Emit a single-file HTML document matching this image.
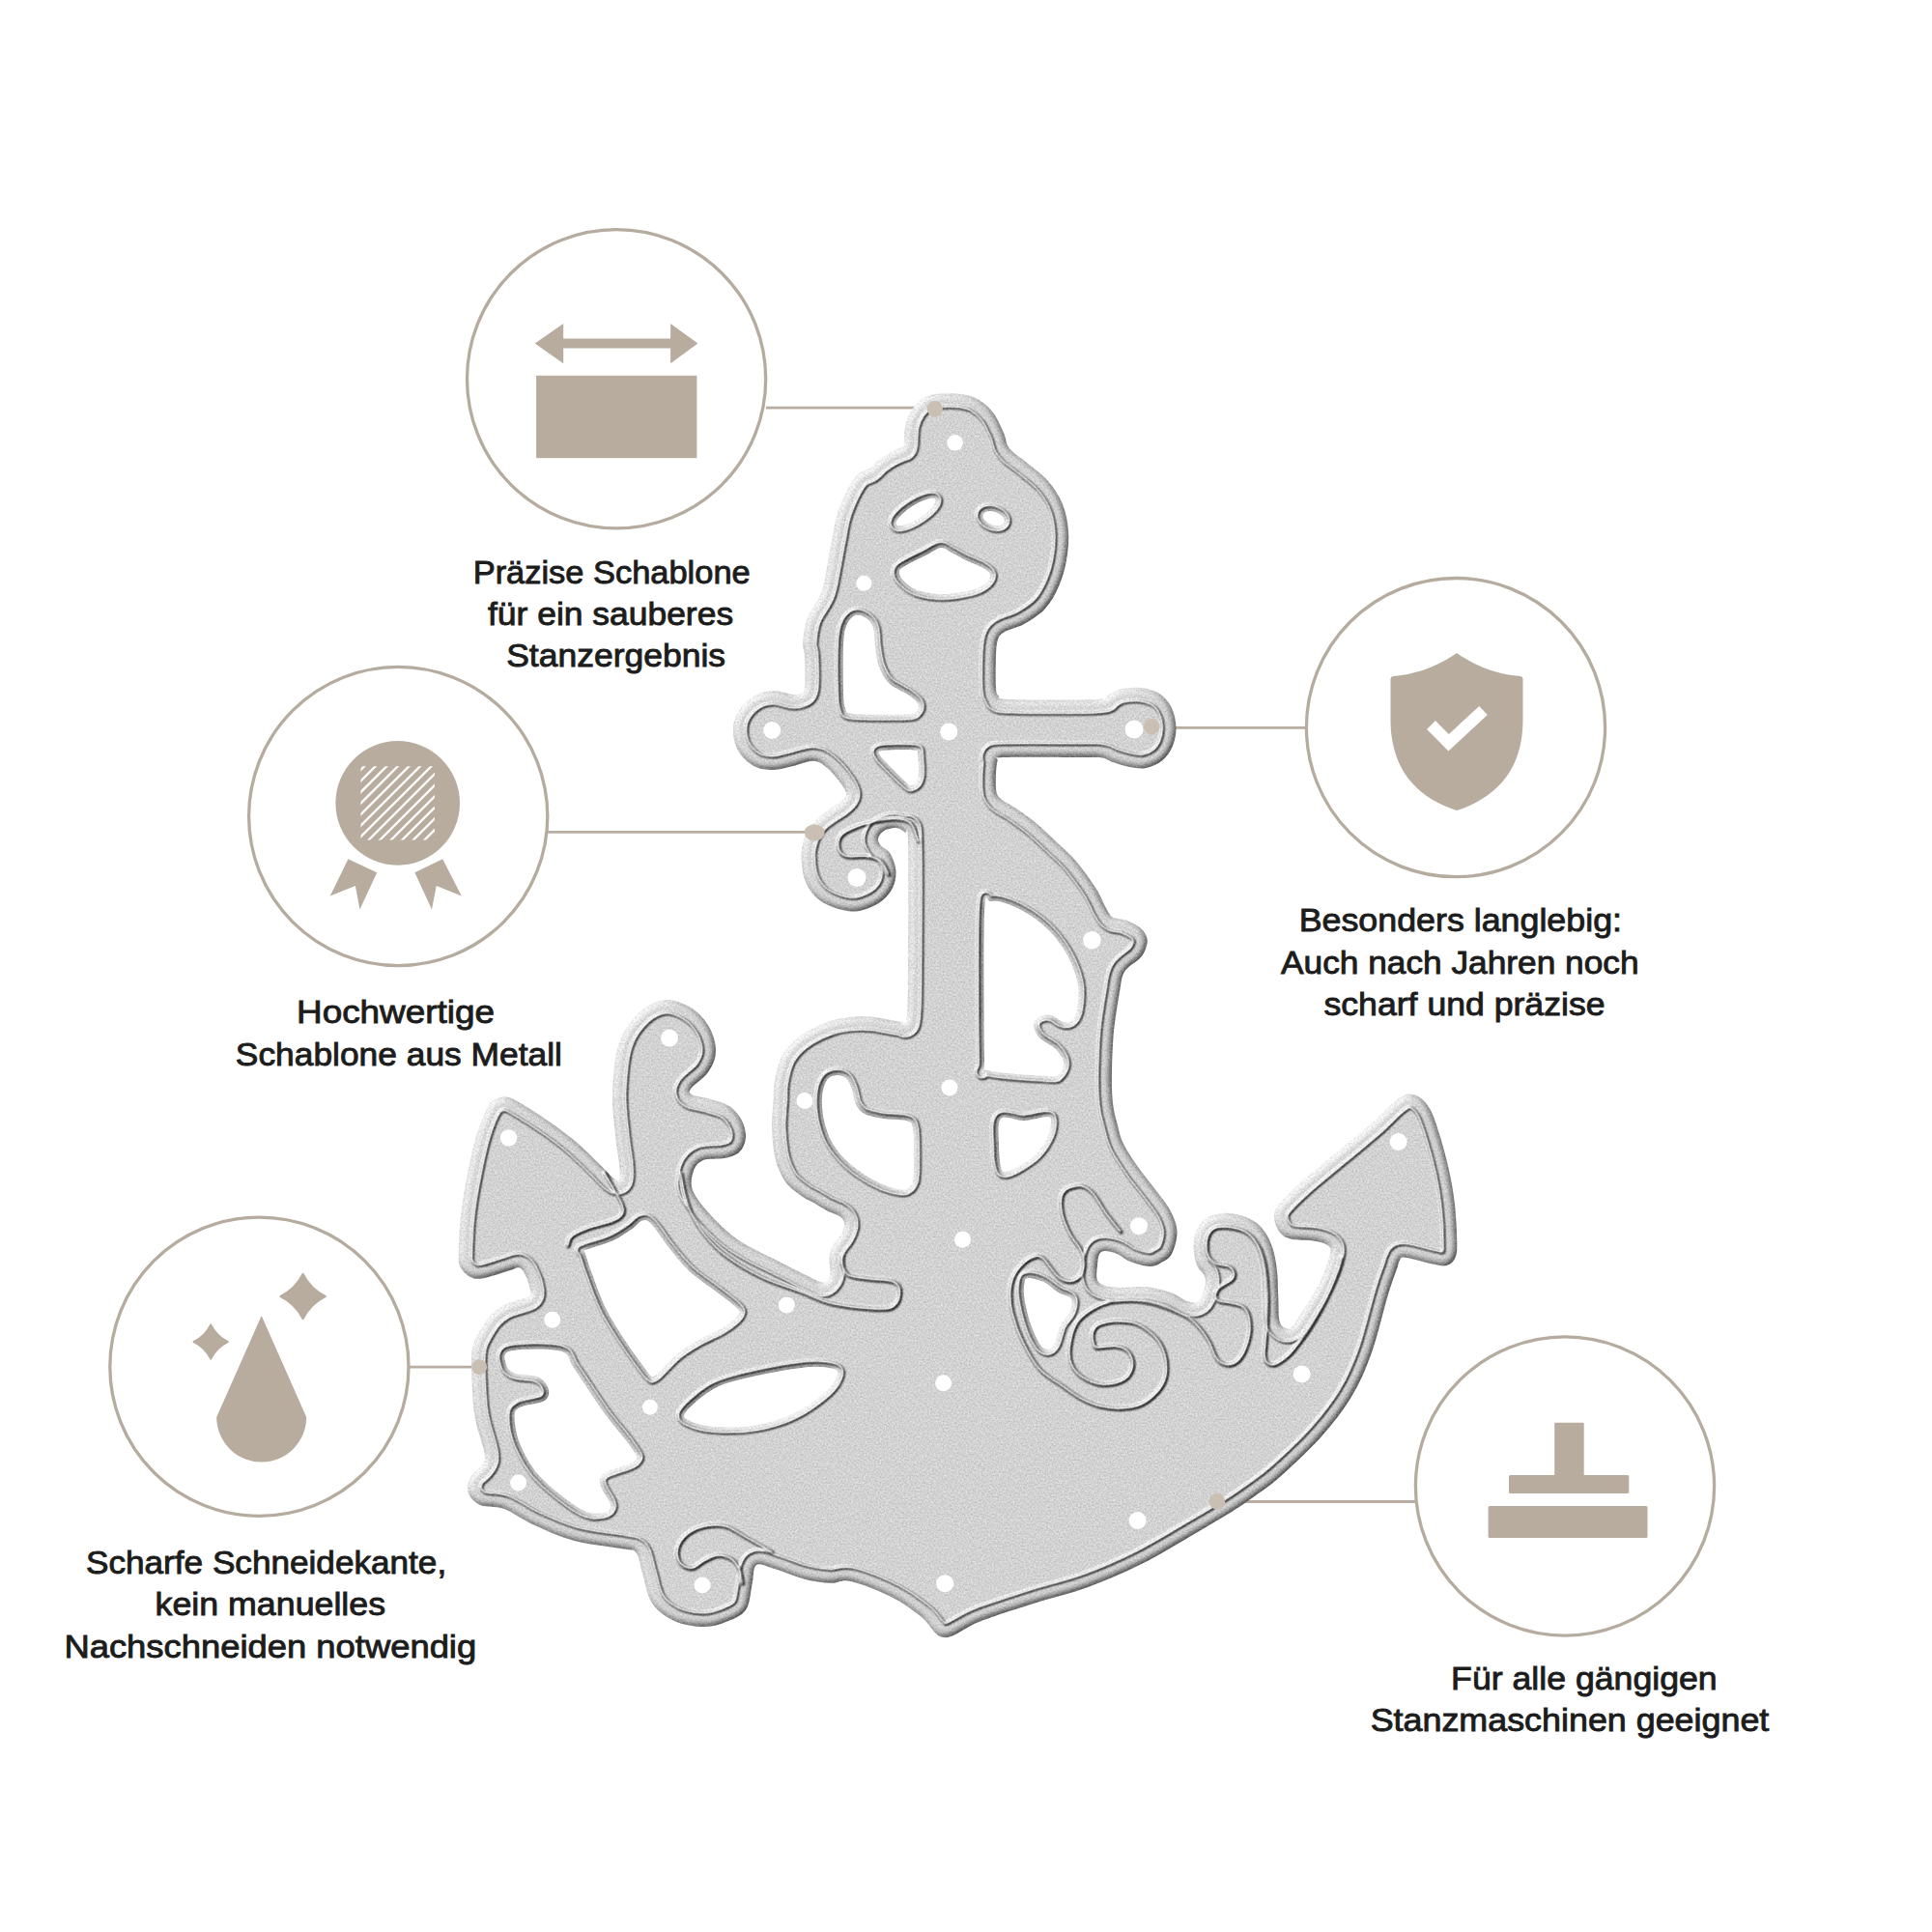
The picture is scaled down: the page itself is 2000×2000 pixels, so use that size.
<!DOCTYPE html>
<html><head><meta charset="utf-8">
<style>
html,body{margin:0;padding:0;background:#fff;}
body{width:2000px;height:2000px;overflow:hidden;}
svg{display:block;}
.t{font-family:"Liberation Sans",sans-serif;font-size:34px;fill:#1c1c1c;stroke:#1c1c1c;stroke-width:0.9px;}
</style></head>
<body>
<svg width="2000" height="2000" viewBox="0 0 2000 2000" xmlns="http://www.w3.org/2000/svg">
<rect width="2000" height="2000" fill="#fff"/>
<!-- circles -->
<g fill="none" stroke="#b5ab9e" stroke-width="3.3">
<circle cx="638.1" cy="392.3" r="154.6"/>
<circle cx="412.2" cy="845" r="154.6"/>
<circle cx="1507" cy="753.1" r="154.6"/>
<circle cx="268.4" cy="1414.7" r="154.6"/>
<circle cx="1620" cy="1538.5" r="154.6"/>
</g>
<!-- connector lines -->
<g stroke="#b8ada0" stroke-width="2.8">
<line x1="793" y1="422.1" x2="968" y2="422.1"/>
<line x1="567" y1="861.4" x2="843" y2="861.4"/>
<line x1="1192" y1="753.3" x2="1352" y2="753.3"/>
<line x1="423" y1="1415.1" x2="496" y2="1415.1"/>
<line x1="1260" y1="1554.5" x2="1465" y2="1554.5"/>
</g>
<!-- icons -->
<g fill="#b8ac9f">
<path d="M553.7 355.5 L583.2 335 L583.2 350.4 L694.1 350.4 L694.1 335 L722.4 355.5 L694.1 376.2 L694.1 360.6 L583.2 360.6 L583.2 376.2 Z"/>
<rect x="555.1" y="388.8" width="166.3" height="85.4"/>
<circle cx="411.7" cy="831.4" r="64.3"/>
<path d="M360.4 889.2 L390.2 903.2 L372.5 941.4 L367.9 917.1 L341.8 927.4 Z"/>
<path d="M458.2 889.2 L477.8 927.4 L451.7 917.1 L447 941.4 L429.4 903.2 Z"/>
<path d="M1508 676 C1494 686 1470 698 1442 700 Q1439.5 700.5 1439.5 703 L1439.5 745 C1439.5 795 1465 825 1508 839 C1551 825 1576.5 795 1576.5 745 L1576.5 703 Q1576.5 700.5 1574 700 C1546 698 1522 686 1508 676 Z"/>
<path d="M270.7 1362 L224.2 1467 A46.5 46.5 0 0 0 317.2 1467 Z"/>
<path d="M218.2 1371.4 Q224.0 1383.2 235.8 1389.0 Q224.0 1394.8 218.2 1406.6 Q212.4 1394.8 200.6 1389.0 Q212.4 1383.2 218.2 1371.4 Z" stroke="#b8ac9f" stroke-width="2" stroke-linejoin="round"/>
<path d="M313.6 1318.8 Q321.3 1334.3 336.8 1342.0 Q321.3 1349.7 313.6 1365.2 Q305.9 1349.7 290.4 1342.0 Q305.9 1334.3 313.6 1318.8 Z" stroke="#b8ac9f" stroke-width="2" stroke-linejoin="round"/>
<rect x="1609.2" y="1472.7" width="30.5" height="55" rx="1"/>
<rect x="1562" y="1527" width="124.3" height="19" rx="1.5"/>
<rect x="1540.6" y="1559" width="164.9" height="33" rx="1.5"/>
</g>
<clipPath id="hatch"><rect x="373.5" y="793.2" width="76.4" height="76.4"/></clipPath>
<g clip-path="url(#hatch)" stroke="#fff" stroke-width="2.3">
<line x1="243.6" y1="788.2" x2="157.2" y2="874.6"/>
<line x1="255.1" y1="788.2" x2="168.7" y2="874.6"/>
<line x1="266.7" y1="788.2" x2="180.3" y2="874.6"/>
<line x1="278.2" y1="788.2" x2="191.8" y2="874.6"/>
<line x1="289.8" y1="788.2" x2="203.4" y2="874.6"/>
<line x1="301.3" y1="788.2" x2="214.9" y2="874.6"/>
<line x1="312.9" y1="788.2" x2="226.5" y2="874.6"/>
<line x1="324.4" y1="788.2" x2="238.0" y2="874.6"/>
<line x1="336.0" y1="788.2" x2="249.6" y2="874.6"/>
<line x1="347.5" y1="788.2" x2="261.1" y2="874.6"/>
<line x1="359.1" y1="788.2" x2="272.7" y2="874.6"/>
<line x1="370.6" y1="788.2" x2="284.2" y2="874.6"/>
<line x1="382.2" y1="788.2" x2="295.8" y2="874.6"/>
<line x1="393.7" y1="788.2" x2="307.3" y2="874.6"/>
<line x1="405.3" y1="788.2" x2="318.9" y2="874.6"/>
<line x1="416.8" y1="788.2" x2="330.4" y2="874.6"/>
<line x1="428.4" y1="788.2" x2="342.0" y2="874.6"/>
<line x1="439.9" y1="788.2" x2="353.5" y2="874.6"/>
<line x1="451.5" y1="788.2" x2="365.1" y2="874.6"/>
<line x1="463.0" y1="788.2" x2="376.6" y2="874.6"/>
<line x1="474.6" y1="788.2" x2="388.2" y2="874.6"/>
<line x1="486.1" y1="788.2" x2="399.7" y2="874.6"/>
<line x1="497.7" y1="788.2" x2="411.3" y2="874.6"/>
<line x1="509.2" y1="788.2" x2="422.8" y2="874.6"/>
<line x1="520.8" y1="788.2" x2="434.4" y2="874.6"/>
<line x1="532.3" y1="788.2" x2="445.9" y2="874.6"/>
<line x1="543.9" y1="788.2" x2="457.5" y2="874.6"/>
</g>
<polyline points="1481.5,750.5 1499.6,768.8 1535.5,735.5" fill="none" stroke="#fff" stroke-width="12.5" stroke-linejoin="miter" stroke-linecap="butt"/>
<!-- anchor -->
<g id="anchor">
<defs>
<path id="sil" d="M975.0 407.5C981.2 407.1 988.8 407.1 995.0 408.0C1001.2 408.9 1006.5 409.8 1012.0 413.0C1017.5 416.2 1023.5 421.2 1028.0 427.0C1032.5 432.8 1036.5 442.3 1039.0 448.0C1041.5 453.7 1041.2 457.5 1043.0 461.0C1044.8 464.5 1046.7 466.0 1050.0 469.0C1053.3 472.0 1057.2 474.2 1063.0 479.0C1068.8 483.8 1078.8 490.8 1085.0 498.0C1091.2 505.2 1096.5 513.3 1100.0 522.0C1103.5 530.7 1105.3 540.3 1106.0 550.0C1106.7 559.7 1105.7 570.5 1104.0 580.0C1102.3 589.5 1099.7 598.7 1096.0 607.0C1092.3 615.3 1088.0 623.5 1082.0 630.0C1076.0 636.5 1067.0 642.0 1060.0 646.0C1053.0 650.0 1044.5 651.3 1040.0 654.0C1035.5 656.7 1034.5 657.7 1033.0 662.0C1031.5 666.3 1031.3 671.7 1031.0 680.0C1030.7 688.3 1030.5 705.2 1031.0 712.0C1031.5 718.8 1031.7 718.5 1034.0 720.5C1036.3 722.5 1028.2 723.4 1045.0 724.0C1061.8 724.6 1118.0 724.8 1135.0 724.0C1152.0 723.2 1142.8 721.2 1147.0 719.5C1151.2 717.8 1154.3 714.8 1160.0 713.5C1165.7 712.2 1174.2 711.2 1181.0 712.0C1187.8 712.8 1195.7 715.0 1201.0 718.5C1206.3 722.0 1210.2 727.2 1213.0 733.0C1215.8 738.8 1217.3 746.5 1217.5 753.0C1217.7 759.5 1216.3 766.3 1214.0 772.0C1211.7 777.7 1208.1 783.2 1203.5 787.0C1198.9 790.8 1192.2 793.8 1186.5 795.0C1180.8 796.2 1175.2 795.0 1169.5 794.0C1163.8 793.0 1156.8 790.6 1152.0 789.0C1147.2 787.4 1145.7 785.3 1141.0 784.5C1136.3 783.7 1140.8 784.1 1124.0 784.0C1107.2 783.9 1055.2 783.3 1040.0 784.0C1024.8 784.7 1034.0 782.8 1032.5 788.0C1031.0 793.2 1030.6 808.7 1031.0 815.0C1031.4 821.3 1031.5 822.3 1035.0 826.0C1038.5 829.7 1045.8 832.7 1052.0 837.0C1058.2 841.3 1065.7 846.3 1072.5 852.0C1079.3 857.7 1086.1 864.4 1093.0 871.0C1099.9 877.6 1107.1 883.4 1114.0 891.5C1120.9 899.6 1129.3 911.4 1134.5 919.5C1139.7 927.6 1142.1 935.0 1145.0 940.0C1147.9 945.0 1148.6 947.4 1152.0 949.5C1155.4 951.6 1160.7 950.6 1165.5 952.5C1170.3 954.4 1177.3 957.8 1181.0 961.0C1184.7 964.2 1186.7 968.0 1187.5 971.5C1188.3 975.0 1187.2 978.6 1186.0 982.0C1184.8 985.4 1183.7 988.0 1180.0 992.0C1176.3 996.0 1167.5 1000.2 1164.0 1006.0C1160.5 1011.8 1160.8 1016.7 1159.0 1027.0C1157.2 1037.3 1154.3 1054.2 1153.0 1068.0C1151.7 1081.8 1151.2 1097.7 1151.0 1110.0C1150.8 1122.3 1151.0 1132.8 1152.0 1142.0C1153.0 1151.2 1155.2 1158.0 1157.0 1165.0C1158.8 1172.0 1159.5 1176.8 1163.0 1184.0C1166.5 1191.2 1172.7 1200.3 1178.0 1208.0C1183.3 1215.7 1189.3 1222.3 1195.0 1230.0C1200.7 1237.7 1208.1 1246.4 1212.0 1254.0C1215.9 1261.6 1218.4 1268.2 1218.5 1275.6C1218.6 1283.0 1215.6 1293.0 1212.8 1298.3C1210.0 1303.6 1205.2 1305.3 1201.4 1307.4C1197.6 1309.5 1195.2 1311.2 1190.0 1311.0C1184.8 1310.8 1175.8 1308.2 1170.0 1306.0C1164.2 1303.8 1160.0 1299.2 1155.0 1297.5C1150.0 1295.8 1143.2 1293.9 1140.0 1296.0C1136.8 1298.1 1136.5 1304.8 1136.0 1310.0C1135.5 1315.2 1134.0 1323.2 1137.0 1327.0C1140.0 1330.8 1146.7 1331.7 1154.0 1332.5C1161.3 1333.3 1175.0 1332.0 1181.0 1332.0C1187.0 1332.0 1184.7 1331.5 1190.0 1332.5C1195.3 1333.5 1206.1 1335.7 1212.8 1338.2C1219.5 1340.7 1225.2 1346.0 1229.9 1347.3C1234.7 1348.6 1238.5 1348.7 1241.3 1346.2C1244.1 1343.7 1246.0 1336.7 1247.0 1332.5C1248.0 1328.3 1248.3 1324.8 1247.0 1321.0C1245.7 1317.2 1240.9 1314.4 1239.0 1309.7C1237.1 1305.0 1235.8 1298.3 1235.6 1292.6C1235.4 1286.9 1235.9 1280.7 1237.8 1275.6C1239.7 1270.5 1242.6 1265.1 1247.0 1261.9C1251.4 1258.7 1258.3 1257.0 1264.0 1256.2C1269.7 1255.4 1275.3 1256.0 1281.0 1257.3C1286.7 1258.6 1293.4 1261.2 1298.2 1264.2C1303.0 1267.2 1306.4 1270.9 1309.6 1275.6C1312.8 1280.3 1315.5 1286.0 1317.6 1292.6C1319.7 1299.2 1321.0 1306.9 1322.0 1315.4C1323.0 1324.0 1322.9 1335.4 1323.3 1343.9C1323.7 1352.5 1323.3 1361.6 1324.4 1366.7C1325.5 1371.8 1327.7 1373.6 1330.0 1374.6C1332.3 1375.5 1334.8 1375.6 1338.0 1372.4C1341.2 1369.2 1344.8 1362.9 1349.5 1355.3C1354.2 1347.7 1362.0 1336.3 1366.5 1326.8C1371.0 1317.3 1375.5 1304.6 1376.8 1298.3C1378.1 1292.0 1377.2 1291.5 1374.5 1289.2C1371.8 1286.9 1367.3 1285.8 1360.8 1284.7C1354.3 1283.6 1341.9 1284.3 1335.7 1282.6C1329.5 1280.9 1326.6 1278.1 1323.8 1274.3C1321.0 1270.5 1319.0 1264.6 1319.0 1260.0C1319.0 1255.4 1319.0 1253.1 1323.8 1246.9C1328.6 1240.8 1337.7 1232.0 1347.6 1223.1C1357.5 1214.2 1371.4 1203.2 1383.3 1193.3C1395.2 1183.4 1409.1 1172.3 1419.0 1163.6C1428.9 1154.9 1436.6 1146.2 1442.9 1141.0C1449.2 1135.8 1452.5 1133.4 1457.0 1132.6C1461.5 1131.8 1466.2 1133.4 1470.2 1136.2C1474.2 1139.0 1477.6 1142.8 1481.0 1149.3C1484.4 1155.8 1487.3 1165.2 1490.5 1175.5C1493.7 1185.8 1497.4 1199.3 1500.0 1211.2C1502.6 1223.1 1504.6 1234.1 1506.0 1247.0C1507.4 1259.9 1508.3 1279.3 1508.3 1288.6C1508.3 1297.9 1507.8 1299.3 1506.0 1302.9C1504.2 1306.5 1501.2 1309.0 1497.6 1310.0C1494.0 1311.0 1491.6 1310.2 1484.5 1308.8C1477.4 1307.4 1460.8 1302.3 1454.8 1301.7C1448.8 1301.1 1450.2 1303.4 1448.8 1305.2C1447.4 1307.0 1448.4 1306.6 1446.4 1312.4C1444.4 1318.2 1441.4 1325.4 1437.0 1340.0C1432.6 1354.6 1426.3 1382.3 1420.0 1400.0C1413.7 1417.7 1407.7 1431.5 1399.0 1446.0C1390.3 1460.5 1380.2 1473.3 1368.0 1487.0C1355.8 1500.7 1337.3 1517.8 1326.0 1528.0C1314.7 1538.2 1308.4 1541.9 1300.0 1548.0C1291.6 1554.1 1285.7 1558.2 1275.4 1564.7C1265.1 1571.2 1253.6 1578.0 1238.1 1587.0C1222.6 1596.0 1200.8 1609.5 1182.2 1618.8C1163.6 1628.1 1144.9 1636.2 1126.3 1643.0C1107.7 1649.8 1089.0 1653.8 1070.4 1659.7C1051.8 1665.6 1030.0 1672.5 1014.5 1678.4C999.0 1684.3 987.4 1695.8 977.3 1695.1C967.2 1694.4 963.0 1681.0 954.0 1674.0C945.0 1667.0 935.2 1659.5 923.0 1653.3C910.8 1647.1 891.5 1639.4 881.0 1637.0C870.5 1634.6 868.0 1639.2 860.0 1638.8C852.0 1638.4 842.4 1637.2 832.7 1634.7C823.0 1632.2 809.9 1626.5 801.6 1624.0C793.3 1621.5 786.8 1617.5 783.0 1620.0C779.2 1622.5 780.5 1631.2 778.8 1638.8C777.1 1646.4 776.7 1659.2 772.6 1665.7C768.5 1672.2 761.3 1675.0 754.0 1678.0C746.7 1681.0 738.3 1684.0 729.0 1684.0C719.7 1684.0 707.0 1682.1 698.0 1678.0C689.0 1673.9 680.5 1667.8 675.0 1659.5C669.5 1651.2 667.7 1637.0 665.0 1628.4C662.3 1619.8 662.0 1611.8 658.8 1607.7C655.6 1603.6 656.7 1605.7 646.0 1603.6C635.3 1601.5 610.1 1599.1 594.6 1595.0C579.1 1590.9 565.1 1584.3 553.0 1578.8C540.9 1573.3 531.3 1565.5 522.0 1562.0C512.7 1558.5 503.2 1560.7 497.0 1558.0C490.8 1555.3 486.5 1550.4 484.8 1545.6C483.1 1540.8 484.6 1533.8 487.0 1529.0C489.4 1524.2 496.6 1520.8 499.0 1516.6C501.4 1512.4 502.7 1512.9 501.4 1504.0C500.1 1495.1 493.2 1478.5 491.0 1463.0C488.8 1447.5 488.2 1422.8 488.0 1411.0C487.8 1399.2 488.5 1397.7 490.0 1392.0C491.5 1386.3 494.2 1382.0 497.0 1377.0C499.8 1372.0 503.1 1366.5 507.0 1362.3C510.9 1358.0 515.9 1354.2 520.6 1351.5C525.3 1348.8 530.9 1347.6 535.4 1346.0C539.9 1344.4 545.3 1343.8 547.5 1342.0C549.7 1340.2 549.2 1338.6 548.8 1335.3C548.3 1332.0 546.6 1325.8 544.8 1322.0C543.0 1318.2 540.9 1313.6 538.0 1312.5C535.1 1311.4 533.6 1313.4 527.3 1315.2C521.0 1317.0 507.1 1322.1 500.4 1323.2C493.7 1324.3 491.0 1324.0 487.0 1322.0C483.0 1320.0 478.2 1315.5 476.2 1311.0C474.2 1306.5 474.6 1304.4 474.8 1295.0C475.0 1285.6 475.9 1268.1 477.5 1254.6C479.1 1241.1 481.5 1227.7 484.2 1214.2C486.9 1200.7 490.0 1185.5 493.6 1173.8C497.2 1162.1 502.4 1150.2 505.8 1144.2C509.2 1138.2 510.7 1139.0 513.8 1137.5C516.9 1136.0 520.6 1134.8 524.6 1135.5C528.6 1136.2 530.8 1137.3 538.0 1141.5C545.2 1145.7 558.3 1153.9 567.7 1160.4C577.1 1166.9 585.6 1173.0 594.6 1180.6C603.6 1188.2 614.8 1199.5 621.5 1206.0C628.2 1212.5 631.8 1217.1 635.0 1219.6C638.2 1222.1 640.0 1223.4 641.0 1221.0C642.0 1218.6 641.7 1212.7 641.0 1205.0C640.3 1197.3 638.2 1187.5 637.0 1175.0C635.8 1162.5 633.3 1146.0 634.0 1130.0C634.7 1114.0 636.3 1092.7 641.0 1079.0C645.7 1065.3 654.0 1055.0 662.0 1047.7C670.0 1040.4 680.0 1035.7 689.0 1035.0C698.0 1034.3 708.4 1038.8 716.0 1043.6C723.6 1048.4 730.4 1056.4 734.6 1064.0C738.8 1071.6 741.3 1081.3 741.0 1089.0C740.7 1096.7 737.2 1103.8 733.0 1110.0C728.8 1116.2 718.8 1122.2 716.0 1126.0C713.2 1129.8 713.0 1131.1 716.0 1133.0C719.0 1134.9 727.5 1135.5 734.0 1137.5C740.5 1139.5 749.3 1141.2 755.0 1145.0C760.7 1148.8 765.2 1154.5 768.0 1160.0C770.8 1165.5 772.5 1172.5 772.0 1178.0C771.5 1183.5 768.7 1189.5 765.0 1193.0C761.3 1196.5 756.2 1197.7 750.0 1199.0C743.8 1200.3 733.3 1198.8 728.0 1201.0C722.7 1203.2 719.8 1206.8 718.0 1212.0C716.2 1217.2 714.3 1224.7 717.0 1232.0C719.7 1239.3 727.2 1248.2 734.0 1256.0C740.8 1263.8 750.3 1272.9 758.0 1279.0C765.7 1285.1 773.2 1289.0 780.0 1292.8C786.8 1296.6 792.4 1299.0 798.6 1302.1C804.8 1305.2 811.1 1308.3 817.3 1311.4C823.5 1314.5 830.2 1318.0 835.9 1320.7C841.6 1323.4 847.8 1327.1 851.4 1327.6C855.0 1328.1 856.2 1325.6 857.6 1323.9C859.0 1322.2 859.4 1320.8 859.5 1317.6C859.6 1314.4 858.5 1308.6 858.5 1305.0C858.5 1301.4 858.6 1299.1 859.5 1296.0C860.4 1292.9 862.1 1289.5 863.9 1286.6C865.7 1283.7 868.5 1281.3 870.1 1278.5C871.8 1275.7 873.3 1272.3 873.8 1269.8C874.3 1267.3 874.1 1265.5 873.2 1263.6C872.3 1261.7 871.3 1260.5 868.2 1258.6C865.1 1256.7 858.9 1254.7 854.5 1252.4C850.1 1250.1 846.0 1247.2 842.1 1245.0C838.2 1242.8 835.5 1242.2 831.0 1239.0C826.5 1235.8 819.2 1230.8 815.0 1226.0C810.8 1221.2 808.2 1215.3 806.0 1210.0C803.8 1204.7 802.7 1201.2 801.5 1194.0C800.3 1186.8 799.2 1176.0 799.0 1167.0C798.8 1158.0 800.0 1147.9 800.5 1140.0C801.0 1132.1 800.5 1126.8 801.7 1119.5C803.0 1112.2 805.1 1102.7 808.0 1096.2C810.9 1089.7 814.4 1085.4 818.8 1080.7C823.2 1076.0 827.8 1072.2 834.3 1068.3C840.8 1064.4 849.8 1060.0 857.6 1057.4C865.4 1054.8 873.3 1053.5 881.0 1052.7C888.7 1051.9 895.5 1051.9 904.0 1052.7C912.5 1053.5 926.2 1057.3 932.0 1057.5C937.8 1057.7 937.2 1063.6 938.5 1054.0C939.8 1044.4 939.8 1030.5 940.0 1000.0C940.2 969.5 940.5 894.0 940.0 871.0C939.5 848.0 939.1 864.3 937.0 862.0C934.9 859.7 931.2 857.3 927.5 857.0C923.8 856.7 918.1 858.2 915.0 860.0C911.9 861.8 909.5 865.4 909.0 868.0C908.5 870.6 909.9 872.9 912.0 875.5C914.1 878.1 918.9 879.1 921.5 883.5C924.1 887.9 927.2 895.8 927.5 902.0C927.8 908.2 926.4 915.2 923.0 921.0C919.6 926.8 914.0 932.8 907.0 936.5C900.0 940.2 890.5 944.1 881.0 943.5C871.5 942.9 857.8 938.1 850.0 933.0C842.2 927.9 837.4 920.7 834.0 913.0C830.6 905.3 829.8 894.2 829.5 887.0C829.2 879.8 830.6 875.0 832.0 870.0C833.4 865.0 835.7 860.8 838.0 857.0C840.3 853.2 842.7 850.2 846.0 847.0C849.3 843.8 854.0 840.8 858.0 838.0C862.0 835.2 867.0 832.7 870.0 830.0C873.0 827.3 876.2 825.5 876.0 822.0C875.8 818.5 872.4 813.6 869.0 809.0C865.6 804.4 860.2 797.9 855.7 794.4C851.2 790.9 848.1 787.9 842.3 787.7C836.5 787.5 827.8 791.5 820.8 793.0C813.8 794.5 807.3 797.0 800.6 797.0C793.9 797.0 786.5 796.3 780.4 793.0C774.3 789.7 767.6 783.3 764.0 777.0C760.4 770.7 758.8 762.1 758.8 755.4C758.8 748.6 760.4 742.3 764.0 736.5C767.6 730.7 774.3 724.0 780.4 720.4C786.5 716.8 793.9 715.2 800.6 715.0C807.3 714.8 816.2 718.5 820.8 719.0C825.4 719.5 826.0 719.2 828.0 718.0C830.0 716.8 832.2 718.3 833.0 712.0C833.8 705.7 833.3 687.8 833.0 680.0C832.7 672.2 830.5 671.8 831.0 665.0C831.5 658.2 832.8 647.5 836.0 639.0C839.2 630.5 846.7 622.7 850.0 614.0C853.3 605.3 854.2 596.0 856.0 587.0C857.8 578.0 859.0 569.8 861.0 560.0C863.0 550.2 864.0 539.0 868.0 528.0C872.0 517.0 879.7 501.2 885.0 494.0C890.3 486.8 896.1 487.8 900.0 485.0C903.9 482.2 904.8 479.7 908.3 477.0C911.8 474.3 916.6 471.0 920.7 468.7C924.8 466.4 930.5 464.4 933.0 463.0C935.5 461.6 934.9 464.3 935.6 460.4C936.3 456.5 935.8 445.9 937.3 439.7C938.8 433.5 941.2 427.8 944.7 423.0C948.2 418.2 953.0 413.3 958.0 410.7C963.0 408.1 968.8 407.9 975.0 407.5Z"/>
<clipPath id="clipS"><use href="#sil"/></clipPath>
<path id="op0" d="M885.0 637.0C888.5 635.7 893.8 637.8 897.0 640.0C900.2 642.2 902.5 645.0 904.0 650.0C905.5 655.0 905.0 663.3 906.0 670.0C907.0 676.7 907.7 683.8 910.0 690.0C912.3 696.2 915.0 702.2 920.0 707.0C925.0 711.8 935.0 715.5 940.0 719.0C945.0 722.5 948.5 725.2 950.0 728.0C951.5 730.8 951.0 734.1 949.0 736.0C947.0 737.9 948.8 739.0 938.0 739.5C927.2 740.0 894.5 740.1 884.0 739.0C873.5 737.9 876.8 737.0 875.0 733.0C873.2 729.0 873.3 725.8 873.0 715.0C872.7 704.2 872.5 679.2 873.0 668.0C873.5 656.8 874.0 653.2 876.0 648.0C878.0 642.8 881.5 638.3 885.0 637.0Z"/>
<path id="op1" d="M974.0 567.0C978.5 566.5 980.7 569.8 985.0 572.0C989.3 574.2 994.5 577.3 1000.0 580.0C1005.5 582.7 1013.8 585.5 1018.0 588.0C1022.2 590.5 1024.7 592.3 1025.0 595.0C1025.3 597.7 1023.3 601.3 1020.0 604.0C1016.7 606.7 1012.5 609.2 1005.0 611.0C997.5 612.8 984.2 615.0 975.0 615.0C965.8 615.0 956.7 613.3 950.0 611.0C943.3 608.7 938.2 604.3 935.0 601.0C931.8 597.7 930.2 593.8 931.0 591.0C931.8 588.2 935.5 586.7 940.0 584.0C944.5 581.3 952.3 577.8 958.0 575.0C963.7 572.2 969.5 567.5 974.0 567.0Z"/>
<path id="op2" d="M913.0 777.0C918.8 776.1 939.8 775.7 946.0 776.5C952.2 777.3 949.2 777.2 950.0 782.0C950.8 786.8 951.5 799.8 950.5 805.0C949.5 810.2 946.2 812.3 944.0 813.0C941.8 813.7 941.3 812.8 937.0 809.0C932.7 805.2 922.3 794.5 918.0 790.0C913.7 785.5 911.8 784.2 911.0 782.0C910.2 779.8 907.2 777.9 913.0 777.0Z"/>
<path id="op3" d="M1026.0 933.0C1030.6 931.7 1038.8 933.9 1046.6 937.0C1054.3 940.1 1064.8 945.8 1072.5 951.5C1080.2 957.2 1087.1 963.8 1093.0 971.0C1098.9 978.2 1104.2 986.8 1108.0 995.0C1111.8 1003.2 1114.8 1011.7 1116.0 1020.0C1117.2 1028.3 1116.0 1039.0 1115.0 1045.0C1114.0 1051.0 1112.3 1053.8 1110.0 1056.0C1107.7 1058.2 1104.7 1058.8 1101.0 1058.0C1097.3 1057.2 1092.0 1052.0 1088.0 1051.0C1084.0 1050.0 1080.0 1050.5 1077.0 1052.0C1074.0 1053.5 1070.2 1056.3 1070.0 1060.0C1069.8 1063.7 1072.2 1069.7 1076.0 1074.0C1079.8 1078.3 1088.8 1081.7 1093.0 1086.0C1097.2 1090.3 1100.5 1095.7 1101.0 1100.0C1101.5 1104.3 1098.7 1109.7 1096.0 1112.0C1093.3 1114.3 1097.3 1114.7 1085.0 1114.0C1072.7 1113.3 1033.0 1111.2 1022.0 1108.0C1011.0 1104.8 1019.5 1122.2 1019.0 1095.0C1018.5 1067.8 1017.8 972.0 1019.0 945.0C1020.2 918.0 1021.4 934.3 1026.0 933.0Z"/>
<path id="op4" d="M1036.0 1158.0C1040.3 1153.8 1052.0 1160.3 1060.0 1160.0C1068.0 1159.7 1079.3 1155.7 1084.0 1156.0C1088.7 1156.3 1088.0 1158.3 1088.0 1162.0C1088.0 1165.7 1086.7 1172.5 1084.0 1178.0C1081.3 1183.5 1076.8 1190.2 1072.0 1195.0C1067.2 1199.8 1060.2 1204.0 1055.0 1207.0C1049.8 1210.0 1044.2 1212.8 1041.0 1213.0C1037.8 1213.2 1037.2 1212.7 1036.0 1208.0C1034.8 1203.3 1034.0 1193.3 1034.0 1185.0C1034.0 1176.7 1031.7 1162.2 1036.0 1158.0Z"/>
<path id="op5" d="M866.0 1113.0C869.3 1112.7 873.3 1113.5 876.0 1116.0C878.7 1118.5 880.3 1123.5 882.0 1128.0C883.7 1132.5 883.8 1138.8 886.0 1143.0C888.2 1147.2 890.2 1150.5 895.0 1153.0C899.8 1155.5 907.8 1156.8 915.0 1158.0C922.2 1159.2 933.0 1158.3 938.0 1160.0C943.0 1161.7 943.7 1161.3 945.0 1168.0C946.3 1174.7 946.0 1191.0 946.0 1200.0C946.0 1209.0 946.3 1216.8 945.0 1222.0C943.7 1227.2 941.3 1229.7 938.0 1231.0C934.7 1232.3 930.5 1231.5 925.0 1230.0C919.5 1228.5 912.5 1226.2 905.0 1222.0C897.5 1217.8 887.2 1211.3 880.0 1205.0C872.8 1198.7 866.5 1191.5 862.0 1184.0C857.5 1176.5 854.8 1168.2 853.0 1160.0C851.2 1151.8 850.5 1142.0 851.0 1135.0C851.5 1128.0 853.5 1121.7 856.0 1118.0C858.5 1114.3 862.7 1113.3 866.0 1113.0Z"/>
<path id="op6" d="M605.6 1294.0C610.3 1291.9 625.7 1288.0 633.8 1284.4C641.9 1280.8 648.8 1275.8 654.0 1272.3C659.2 1268.8 661.4 1264.5 664.8 1263.6C668.2 1262.7 669.3 1261.9 674.2 1267.0C679.1 1272.1 687.7 1285.7 694.4 1294.0C701.1 1302.3 706.8 1309.5 714.6 1316.7C722.5 1323.9 733.6 1331.0 741.5 1337.0C749.4 1343.0 757.9 1349.0 761.7 1353.0C765.5 1357.0 766.7 1357.4 764.4 1361.0C762.1 1364.6 755.2 1370.1 748.0 1374.6C740.8 1379.1 729.1 1383.5 721.3 1388.0C713.5 1392.5 707.5 1396.2 701.0 1401.5C694.5 1406.8 686.3 1416.2 682.3 1420.0C678.3 1423.8 678.8 1424.1 677.0 1424.4C675.2 1424.7 676.5 1427.8 671.5 1421.7C666.5 1415.6 654.7 1399.2 647.3 1388.0C639.9 1376.8 632.6 1365.6 627.0 1354.4C621.4 1343.2 617.2 1330.4 613.6 1320.8C610.0 1311.2 606.9 1301.5 605.6 1297.0C604.3 1292.5 600.9 1296.1 605.6 1294.0Z"/>
<path id="op7" d="M528.0 1398.6C537.3 1396.2 568.9 1395.5 580.0 1398.6C591.1 1401.7 587.0 1406.3 594.6 1417.0C602.2 1427.7 615.6 1449.0 625.6 1462.8C635.6 1476.6 649.4 1491.7 654.6 1500.0C659.8 1508.3 661.5 1508.3 656.7 1512.5C651.9 1516.7 631.5 1520.9 625.6 1525.0C619.7 1529.1 620.4 1531.5 621.5 1537.0C622.6 1542.5 631.6 1553.2 632.0 1558.0C632.4 1562.8 628.8 1565.3 623.6 1566.0C618.4 1566.7 611.5 1568.2 600.8 1562.0C590.1 1555.8 569.8 1540.0 559.4 1529.0C549.0 1518.0 543.2 1506.3 538.7 1496.0C534.2 1485.7 532.5 1473.6 532.5 1467.0C532.5 1460.4 533.5 1459.4 538.7 1456.6C543.9 1453.8 558.7 1453.1 563.5 1450.0C568.3 1446.9 568.8 1442.1 567.7 1438.0C566.6 1433.9 562.9 1428.3 557.0 1425.5C551.1 1422.7 538.0 1423.5 532.5 1421.4C527.0 1419.3 524.8 1416.8 524.0 1413.0C523.2 1409.2 518.7 1401.0 528.0 1398.6Z"/>
<path id="op8" d="M709.4 1462.3C713.4 1456.5 728.1 1443.3 740.0 1437.0C751.9 1430.7 765.0 1428.2 780.8 1424.6C796.6 1421.0 821.1 1416.5 834.6 1415.2C848.1 1413.9 856.1 1415.2 861.5 1416.5C866.9 1417.8 868.0 1419.2 866.9 1423.3C865.8 1427.3 862.4 1434.1 854.8 1440.8C847.1 1447.5 833.3 1457.8 821.0 1463.6C808.7 1469.4 794.2 1473.5 780.8 1475.7C767.4 1477.9 751.2 1477.7 740.4 1477.0C729.6 1476.3 721.2 1474.2 716.0 1471.7C710.8 1469.2 705.4 1468.1 709.4 1462.3Z"/>
<path id="op9" d="M1064.4 1322.9C1067.8 1322.7 1075.4 1324.5 1080.6 1327.0C1085.8 1329.5 1090.7 1334.8 1095.4 1337.7C1100.1 1340.6 1106.8 1341.0 1108.8 1344.4C1110.8 1347.8 1109.3 1353.4 1107.5 1357.9C1105.7 1362.4 1100.7 1365.7 1098.0 1371.3C1095.3 1376.9 1093.5 1387.2 1091.3 1391.5C1089.1 1395.8 1087.1 1396.9 1084.6 1396.9C1082.1 1396.9 1079.4 1395.8 1076.5 1391.5C1073.6 1387.2 1069.7 1379.1 1067.0 1371.3C1064.3 1363.5 1061.5 1351.6 1060.4 1344.4C1059.3 1337.2 1059.7 1331.8 1060.4 1328.2C1061.1 1324.6 1061.0 1323.1 1064.4 1322.9Z"/>
<ellipse id="el0" cx="948.0" cy="530.0" rx="24.0" ry="7.0" transform="rotate(-32.8 948.0 530.0)"/>
<ellipse id="el1" cx="1028.4" cy="536.5" rx="11.5" ry="6.8" transform="rotate(20.0 1028.4 536.5)"/>
<mask id="plateMask" maskUnits="userSpaceOnUse" x="0" y="0" width="2000" height="2000">
<use href="#sil" fill="#fff"/>
<use href="#op0" fill="#000"/>
<use href="#op1" fill="#000"/>
<use href="#op2" fill="#000"/>
<use href="#op3" fill="#000"/>
<use href="#op4" fill="#000"/>
<use href="#op5" fill="#000"/>
<use href="#op6" fill="#000"/>
<use href="#op7" fill="#000"/>
<use href="#op8" fill="#000"/>
<use href="#op9" fill="#000"/>
<use href="#el0" fill="#000"/>
<use href="#el1" fill="#000"/>
<circle cx="988.6" cy="458.3" r="8.3" fill="#000"/>
<circle cx="894.4" cy="603.8" r="8.0" fill="#000"/>
<circle cx="799.2" cy="756.0" r="9.0" fill="#000"/>
<circle cx="982.3" cy="757.4" r="9.0" fill="#000"/>
<circle cx="1174.0" cy="755.0" r="9.5" fill="#000"/>
<circle cx="887.0" cy="908.5" r="9.5" fill="#000"/>
<circle cx="1130.4" cy="973.2" r="9.3" fill="#000"/>
<circle cx="693.0" cy="1074.6" r="9.0" fill="#000"/>
<circle cx="833.0" cy="1139.5" r="8.5" fill="#000"/>
<circle cx="983.0" cy="1126.0" r="8.5" fill="#000"/>
<circle cx="996.5" cy="1283.3" r="8.5" fill="#000"/>
<circle cx="1179.0" cy="1269.2" r="9.0" fill="#000"/>
<circle cx="1447.6" cy="1182.0" r="9.0" fill="#000"/>
<circle cx="526.6" cy="1177.9" r="8.7" fill="#000"/>
<circle cx="571.7" cy="1366.3" r="8.5" fill="#000"/>
<circle cx="814.3" cy="1351.0" r="8.5" fill="#000"/>
<circle cx="672.9" cy="1456.7" r="8.0" fill="#000"/>
<circle cx="976.6" cy="1431.8" r="8.5" fill="#000"/>
<circle cx="536.6" cy="1535.0" r="8.5" fill="#000"/>
<circle cx="727.0" cy="1641.0" r="8.5" fill="#000"/>
<circle cx="978.2" cy="1639.2" r="9.0" fill="#000"/>
<circle cx="1177.6" cy="1574.0" r="9.0" fill="#000"/>
<circle cx="1347.6" cy="1422.5" r="9.0" fill="#000"/>
</mask>
<mask id="hMask" maskUnits="userSpaceOnUse" x="0" y="0" width="2000" height="2000">
<use href="#sil" fill="#fff"/>
<use href="#op0" fill="#000" stroke="#fff" stroke-width="5.0"/>
<use href="#op1" fill="#000" stroke="#fff" stroke-width="5.0"/>
<use href="#op2" fill="#000" stroke="#fff" stroke-width="5.0"/>
<use href="#op3" fill="#000" stroke="#fff" stroke-width="5.0"/>
<use href="#op4" fill="#000" stroke="#fff" stroke-width="5.0"/>
<use href="#op5" fill="#000" stroke="#fff" stroke-width="5.0"/>
<use href="#op6" fill="#000" stroke="#fff" stroke-width="5.0"/>
<use href="#op7" fill="#000" stroke="#fff" stroke-width="5.0"/>
<use href="#op8" fill="#000" stroke="#fff" stroke-width="5.0"/>
<use href="#op9" fill="#000" stroke="#fff" stroke-width="5.0"/>
<use href="#el0" fill="#000" stroke="#fff" stroke-width="5.0"/>
<use href="#el1" fill="#000" stroke="#fff" stroke-width="5.0"/>
</mask>
<mask id="ringS" maskUnits="userSpaceOnUse" x="0" y="0" width="2000" height="2000"><use href="#sil" fill="none" stroke="#fff" stroke-width="30.0"/><use href="#sil" fill="none" stroke="#000" stroke-width="26.0"/></mask>
<mask id="ringO" maskUnits="userSpaceOnUse" x="0" y="0" width="2000" height="2000">
<use href="#op0" fill="none" stroke="#fff" stroke-width="13.0"/>
<use href="#op1" fill="none" stroke="#fff" stroke-width="13.0"/>
<use href="#op2" fill="none" stroke="#fff" stroke-width="13.0"/>
<use href="#op3" fill="none" stroke="#fff" stroke-width="13.0"/>
<use href="#op4" fill="none" stroke="#fff" stroke-width="13.0"/>
<use href="#op5" fill="none" stroke="#fff" stroke-width="13.0"/>
<use href="#op6" fill="none" stroke="#fff" stroke-width="13.0"/>
<use href="#op7" fill="none" stroke="#fff" stroke-width="13.0"/>
<use href="#op8" fill="none" stroke="#fff" stroke-width="13.0"/>
<use href="#op9" fill="none" stroke="#fff" stroke-width="13.0"/>
<use href="#el0" fill="none" stroke="#fff" stroke-width="13.0"/>
<use href="#el1" fill="none" stroke="#fff" stroke-width="13.0"/>
<use href="#op0" fill="none" stroke="#000" stroke-width="9.0"/>
<use href="#op1" fill="none" stroke="#000" stroke-width="9.0"/>
<use href="#op2" fill="none" stroke="#000" stroke-width="9.0"/>
<use href="#op3" fill="none" stroke="#000" stroke-width="9.0"/>
<use href="#op4" fill="none" stroke="#000" stroke-width="9.0"/>
<use href="#op5" fill="none" stroke="#000" stroke-width="9.0"/>
<use href="#op6" fill="none" stroke="#000" stroke-width="9.0"/>
<use href="#op7" fill="none" stroke="#000" stroke-width="9.0"/>
<use href="#op8" fill="none" stroke="#000" stroke-width="9.0"/>
<use href="#op9" fill="none" stroke="#000" stroke-width="9.0"/>
<use href="#el0" fill="none" stroke="#000" stroke-width="9.0"/>
<use href="#el1" fill="none" stroke="#000" stroke-width="9.0"/>
</mask>
<filter id="emb" filterUnits="userSpaceOnUse" x="440" y="380" width="1100" height="1340" color-interpolation-filters="sRGB">
<feColorMatrix in="SourceGraphic" type="matrix" values="0 0 0 0 0  0 0 0 0 0  0 0 0 0 0  1 0 0 0 0" result="pA"/>
<feGaussianBlur in="pA" stdDeviation="3.5" result="pB"/>
<feColorMatrix in="SourceGraphic" type="matrix" values="0 0 0 0 0  0 0 0 0 0  0 0 0 0 0  0 1 0 0 0" result="rA"/>
<feGaussianBlur in="rA" stdDeviation="1.1" result="rB"/>
<feComposite in="pB" in2="rB" operator="arithmetic" k1="0" k2="0.6" k3="0.32" k4="0" result="h"/>
<feDiffuseLighting in="h" surfaceScale="6.0" diffuseConstant="0.95" lighting-color="#ffffff" result="lit">
<feDistantLight azimuth="225" elevation="60"/>
</feDiffuseLighting>
<feTurbulence type="fractalNoise" baseFrequency="0.55" numOctaves="2" seed="7" result="tn"/>
<feColorMatrix in="tn" type="matrix" values="1 0 0 0 0  1 0 0 0 0  1 0 0 0 0  0 0 0 0 1" result="gn"/>
<feComposite in="lit" in2="gn" operator="arithmetic" k1="0" k2="1" k3="0.25" k4="-0.125"/>
</filter>
</defs>
<g mask="url(#plateMask)"><g filter="url(#emb)"><g mask="url(#hMask)">
<use href="#sil" fill="#ff0000"/>
<g clip-path="url(#clipS)" mask="url(#ringS)"><rect x="400" y="350" width="1200" height="1400" fill="#ffff00"/></g>
<g mask="url(#ringO)"><rect x="400" y="350" width="1200" height="1400" fill="#ffff00"/></g>
<g fill="none" stroke="#ffff00" stroke-width="3.0" stroke-linecap="round" stroke-linejoin="round">
<path d="M1132.6 1392.1C1133.1 1392.6 1132.1 1394.9 1135.7 1395.2C1139.3 1395.5 1149.2 1393.3 1154.3 1393.7C1159.3 1394.1 1163.0 1395.2 1166.0 1397.5C1169.0 1399.8 1171.3 1404.0 1172.2 1407.6C1173.1 1411.2 1172.8 1415.8 1171.4 1419.3C1170.0 1422.8 1167.8 1426.3 1163.7 1428.6C1159.6 1430.9 1152.0 1432.9 1146.6 1433.3C1141.1 1433.7 1136.2 1433.0 1131.0 1431.0C1125.8 1429.0 1119.4 1425.5 1115.5 1421.6C1111.6 1417.7 1109.0 1413.2 1107.8 1407.6C1106.6 1402.0 1107.2 1394.7 1108.5 1388.2C1109.8 1381.7 1111.8 1374.2 1115.5 1368.8C1119.2 1363.4 1125.2 1359.1 1131.0 1355.6C1136.8 1352.1 1143.4 1349.5 1150.5 1347.9C1157.6 1346.4 1166.0 1345.9 1173.8 1346.3C1181.5 1346.7 1190.0 1348.4 1197.0 1350.2C1204.0 1352.0 1210.1 1354.5 1216.0 1357.0C1221.9 1359.5 1227.7 1362.3 1232.2 1365.5C1236.7 1368.7 1239.8 1372.2 1243.1 1376.3C1246.4 1380.4 1249.5 1384.9 1252.2 1389.9C1254.9 1394.9 1256.7 1402.4 1259.4 1406.2C1262.1 1410.0 1265.2 1411.8 1268.5 1412.6C1271.8 1413.4 1276.0 1413.1 1279.3 1410.8C1282.6 1408.5 1286.0 1404.0 1288.4 1399.0C1290.8 1394.0 1293.0 1386.9 1293.8 1380.9C1294.5 1374.9 1294.1 1367.5 1292.9 1362.8C1291.7 1358.1 1289.6 1355.1 1286.6 1352.8C1283.6 1350.5 1279.0 1350.3 1274.8 1349.2C1270.6 1348.1 1263.9 1348.2 1261.2 1346.4C1258.5 1344.6 1257.7 1340.9 1258.5 1338.3C1259.3 1335.7 1262.9 1333.3 1265.8 1331.0C1268.7 1328.7 1273.8 1327.0 1275.7 1324.7C1277.7 1322.5 1278.1 1319.8 1277.5 1317.5C1276.9 1315.2 1275.1 1312.6 1272.1 1311.1C1269.1 1309.6 1263.0 1310.4 1259.4 1308.4C1255.8 1306.4 1252.1 1303.5 1250.4 1299.3C1248.8 1295.1 1248.5 1287.5 1249.5 1283.0C1250.5 1278.5 1253.2 1274.3 1256.7 1272.2C1260.2 1270.1 1265.0 1270.0 1270.3 1270.4C1275.6 1270.9 1283.1 1271.9 1288.4 1274.9C1293.7 1277.9 1298.5 1282.9 1302.0 1288.5C1305.5 1294.1 1307.5 1300.6 1309.2 1308.4C1310.9 1316.2 1311.5 1326.5 1312.0 1335.6C1312.5 1344.7 1312.3 1353.8 1312.0 1362.8C1311.7 1371.8 1310.6 1383.1 1310.1 1389.9C1309.6 1396.7 1308.9 1400.0 1309.2 1403.5C1309.5 1407.0 1310.2 1409.3 1312.0 1410.8C1313.8 1412.3 1316.5 1413.8 1320.1 1412.6C1323.7 1411.4 1329.5 1407.3 1333.7 1403.5C1337.9 1399.7 1341.2 1394.9 1345.0 1390.0C1348.8 1385.1 1351.7 1381.8 1356.5 1374.0C1361.3 1366.2 1368.7 1353.6 1373.6 1343.3C1378.5 1333.0 1383.6 1318.9 1386.0 1312.0C1388.4 1305.1 1387.7 1303.7 1388.0 1302.0"/>
<path d="M1132.6 1392.1C1132.3 1390.8 1131.0 1386.9 1131.0 1384.3C1131.0 1381.7 1131.3 1378.8 1132.6 1376.6C1133.9 1374.4 1135.2 1372.5 1138.8 1371.1C1142.4 1369.7 1148.5 1368.2 1154.3 1368.0C1160.1 1367.8 1168.0 1367.9 1173.8 1369.6C1179.6 1371.3 1184.8 1374.6 1189.3 1378.1C1193.8 1381.6 1197.9 1385.7 1200.9 1390.6C1203.9 1395.5 1206.2 1401.5 1207.1 1407.6C1208.0 1413.7 1208.1 1421.3 1206.4 1427.1C1204.7 1432.9 1201.2 1438.1 1197.0 1442.6C1192.8 1447.1 1187.3 1451.6 1181.5 1454.2C1175.7 1456.8 1169.2 1457.8 1162.1 1458.1C1155.0 1458.4 1145.9 1457.5 1138.8 1455.8C1131.7 1454.1 1125.9 1451.5 1119.4 1448.0C1112.9 1444.5 1107.3 1440.2 1100.0 1435.0C1092.7 1429.8 1082.5 1424.5 1075.6 1416.7C1068.7 1408.9 1063.1 1397.7 1058.5 1388.2C1053.9 1378.7 1050.3 1368.2 1048.2 1359.7C1046.1 1351.2 1045.6 1343.6 1046.0 1337.0C1046.4 1330.4 1047.8 1325.0 1050.5 1319.9C1053.2 1314.8 1058.1 1309.4 1061.9 1306.2C1065.7 1303.0 1070.3 1301.1 1073.3 1300.5C1076.3 1299.9 1077.6 1300.7 1080.1 1302.8C1082.6 1304.9 1085.2 1309.6 1088.1 1313.0C1090.9 1316.4 1093.8 1321.0 1097.2 1323.3C1100.6 1325.6 1105.0 1327.1 1108.6 1326.7C1112.2 1326.3 1116.5 1324.0 1118.8 1321.0C1121.1 1318.0 1122.3 1313.0 1122.3 1308.5C1122.3 1304.0 1121.2 1298.8 1118.8 1293.7C1116.4 1288.6 1111.1 1284.0 1108.0 1278.0C1104.9 1272.0 1101.5 1264.3 1100.0 1258.0C1098.5 1251.7 1098.2 1244.5 1099.0 1240.0C1099.8 1235.5 1101.5 1233.0 1105.0 1231.0C1108.5 1229.0 1115.5 1227.2 1120.0 1228.0C1124.5 1228.8 1127.8 1231.3 1132.0 1236.0C1136.2 1240.7 1140.3 1249.5 1145.0 1256.0C1149.7 1262.5 1157.5 1271.8 1160.0 1275.0"/>
<path d="M872.0 1300.0C872.0 1301.5 870.5 1305.9 871.7 1309.3C872.9 1312.7 874.1 1318.0 879.1 1320.5C884.1 1323.0 894.0 1323.2 901.5 1324.2C909.0 1325.2 918.9 1325.0 923.9 1326.7C928.9 1328.4 930.5 1330.5 931.3 1334.2C932.1 1337.9 931.7 1345.5 928.8 1349.0C925.9 1352.5 924.7 1355.1 913.9 1355.3C903.1 1355.5 878.7 1353.4 864.2 1350.3C849.7 1347.2 839.7 1341.3 827.0 1336.6C814.3 1331.9 801.2 1328.6 788.0 1322.0C774.8 1315.4 758.7 1306.0 747.7 1297.0C736.7 1288.0 728.3 1277.5 722.0 1268.0C715.7 1258.5 712.8 1248.8 710.0 1240.0C707.2 1231.2 705.8 1219.2 705.0 1215.0"/>
<path d="M799.1 1606.6C794.5 1604.0 779.0 1595.1 771.2 1590.8C763.4 1586.5 758.7 1582.4 752.5 1580.5C746.3 1578.6 740.1 1578.7 733.9 1579.6C727.7 1580.5 720.2 1583.1 715.2 1586.1C710.2 1589.0 706.4 1593.4 704.1 1597.3C701.8 1601.2 701.0 1605.7 701.3 1609.4C701.6 1613.1 703.3 1617.3 705.9 1619.6C708.5 1621.9 713.2 1624.0 717.1 1623.4C721.0 1622.8 724.9 1618.1 729.2 1615.9C733.6 1613.7 738.5 1610.6 743.2 1610.3C747.9 1610.0 753.5 1611.6 757.2 1614.1C760.9 1616.6 763.7 1621.0 765.6 1625.2C767.5 1629.4 767.9 1636.9 768.4 1639.2"/>
<path d="M919.8 905.2C918.5 902.9 915.9 894.3 912.0 891.2C908.1 888.1 902.5 887.4 896.5 886.6C890.5 885.8 881.0 887.9 876.3 886.6C871.6 885.3 869.5 882.2 868.5 878.8C867.5 875.4 867.9 869.8 870.0 866.4C872.1 863.0 875.3 861.2 881.0 858.6C886.7 856.0 896.5 852.7 904.2 850.9C912.0 849.1 921.0 847.5 927.5 847.8C934.0 848.0 939.1 848.5 943.0 852.4C946.9 856.3 949.5 867.9 950.8 871.0"/>
<path d="M626.0 1214.0C627.5 1216.7 631.9 1224.8 635.0 1230.4C638.1 1236.1 642.8 1243.4 644.4 1247.9C646.0 1252.4 646.0 1254.6 644.4 1257.3C642.8 1260.0 641.1 1261.5 635.0 1264.0C628.9 1266.5 615.2 1269.4 608.0 1272.1C600.8 1274.8 595.2 1277.3 591.9 1280.2C588.5 1283.1 588.6 1288.0 587.9 1289.6"/>
</g>
</g></g></g>
</g>
<!-- dots -->
<g fill="#c9bfb3">
<circle cx="967.7" cy="423.1" r="8.2"/>
<ellipse cx="843.2" cy="861.8" rx="10.5" ry="8.6"/>
<circle cx="1192.2" cy="752.3" r="8.2"/>
<circle cx="496.2" cy="1415.2" r="7.9"/>
<circle cx="1260" cy="1554.4" r="8.3"/>
</g>
<!-- text -->
<g class="t">
<text x="489.7" y="603.7" textLength="287.0" lengthAdjust="spacingAndGlyphs">Präzise Schablone</text>
<text x="505.0" y="647.0" textLength="254.1" lengthAdjust="spacingAndGlyphs">für ein sauberes</text>
<text x="524.2" y="690.3" textLength="226.9" lengthAdjust="spacingAndGlyphs">Stanzergebnis</text>
<text x="307.0" y="1059.3" textLength="205.0" lengthAdjust="spacingAndGlyphs">Hochwertige</text>
<text x="243.8" y="1103.3" textLength="338.1" lengthAdjust="spacingAndGlyphs">Schablone aus Metall</text>
<text x="1344.7" y="964.1" textLength="334.3" lengthAdjust="spacingAndGlyphs">Besonders langlebig:</text>
<text x="1326.1" y="1008.0" textLength="370.4" lengthAdjust="spacingAndGlyphs">Auch nach Jahren noch</text>
<text x="1370.5" y="1051.0" textLength="291.0" lengthAdjust="spacingAndGlyphs">scharf und präzise</text>
<text x="89.0" y="1628.6" textLength="373.2" lengthAdjust="spacingAndGlyphs">Scharfe Schneidekante,</text>
<text x="160.5" y="1672.0" textLength="238.6" lengthAdjust="spacingAndGlyphs">kein manuelles</text>
<text x="66.4" y="1715.7" textLength="426.8" lengthAdjust="spacingAndGlyphs">Nachschneiden notwendig</text>
<text x="1502.1" y="1749.0" textLength="275.6" lengthAdjust="spacingAndGlyphs">Für alle gängigen</text>
<text x="1418.7" y="1792.1" textLength="412.6" lengthAdjust="spacingAndGlyphs">Stanzmaschinen geeignet</text>
</g>
</svg>
</body></html>
